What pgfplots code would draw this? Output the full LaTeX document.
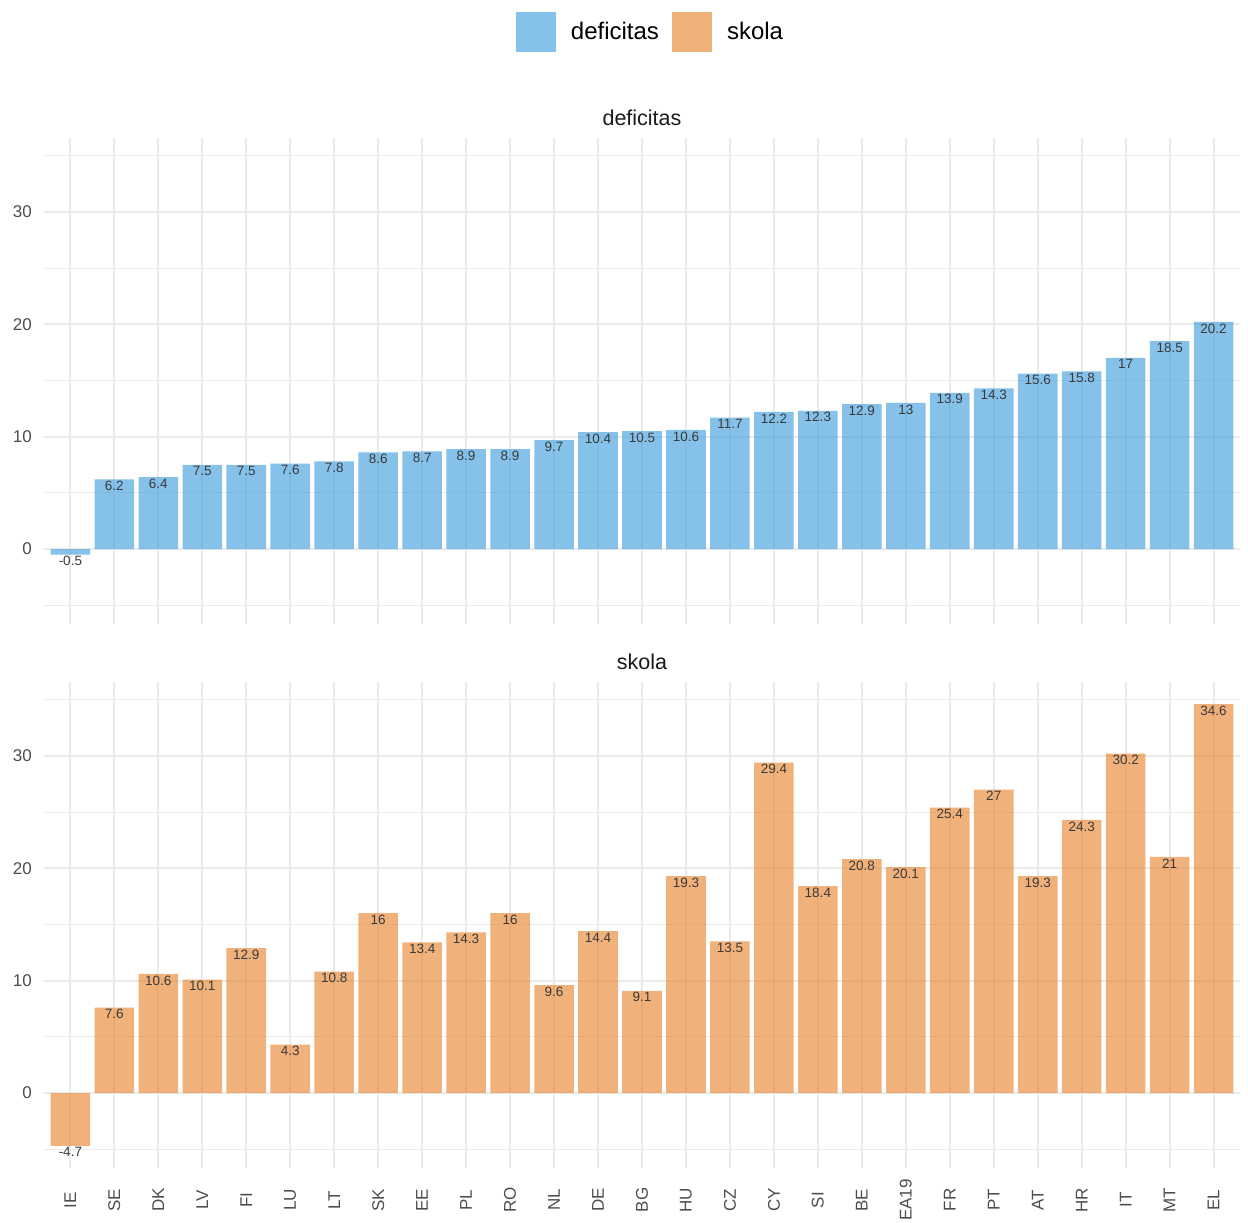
\documentclass[border=0pt]{standalone}
\usepackage{pgfplots}
\usepackage{pgfplotstable}
\pgfplotsset{compat=1.18}
\usepackage{fontspec}
\setmainfont{Liberation Sans}

\definecolor{defblue}{HTML}{3498DB}
\definecolor{skorange}{HTML}{E67E22}
\definecolor{gridgray}{HTML}{EBEBEB}
\definecolor{ticktext}{HTML}{4D4D4D}
\definecolor{labeltext}{HTML}{3A3A3A}
\definecolor{striptext}{HTML}{1A1A1A}

% x: country order (1..27)
\pgfplotstableread{
x y
1 -0.5
2 6.2
3 6.4
4 7.5
5 7.5
6 7.6
7 7.8
8 8.6
9 8.7
10 8.9
11 8.9
12 9.7
13 10.4
14 10.5
15 10.6
16 11.7
17 12.2
18 12.3
19 12.9
20 13
21 13.9
22 14.3
23 15.6
24 15.8
25 17
26 18.5
27 20.2
}\deficitas

\pgfplotstableread{
x y
1 -4.7
2 7.6
3 10.6
4 10.1
5 12.9
6 4.3
7 10.8
8 16
9 13.4
10 14.3
11 16
12 9.6
13 14.4
14 9.1
15 19.3
16 13.5
17 29.4
18 18.4
19 20.8
20 20.1
21 25.4
22 27
23 19.3
24 24.3
25 30.2
26 21
27 34.6
}\skola

\pgfplotsset{
  panel/.style={
    scale only axis,
    width=1196pt, height=486pt,
    xmin=0.4, xmax=27.6,
    ymin=-6.665, ymax=36.565,
    xtick={1,...,27},
    ytick={0,10,20,30},
    minor ytick={-5,5,15,25,35},
    grid=both,
    major grid style={draw=gridgray, line width=1.9pt},
    minor grid style={draw=gridgray, line width=1pt},
    axis line style={draw=none},
    major tick length=0pt, minor tick length=0pt,
    /pgf/number format/assume math mode=true,
    tick label style={font=\fontsize{17}{20}\selectfont, text=ticktext},
    yticklabel style={inner sep=0pt, xshift=-12pt},
    title style={at={(0.5,1)}, anchor=center, yshift=14pt,
      font=\fontsize{21.5}{24}\selectfont, text=striptext},
    ybar, bar width=0.9, bar shift=0pt,
    nodes near coords,
    every node near coord/.style={anchor=north, inner sep=1.5pt,
      font=\fontsize{13.5}{15}\selectfont, text=labeltext, text opacity=1},
  },
}

\begin{document}
\begin{tikzpicture}
\useasboundingbox (0,0) rectangle (1248pt,-1223pt);

\begin{axis}[panel,
  at={(44pt,-624pt)}, anchor=south west,
  title={deficitas},
  xticklabels={},
  legend columns=2,
  legend style={at={(0.5067,1.218)}, anchor=center, draw=none, fill=none,
    font=\fontsize{24}{28}\selectfont,
    /tikz/every odd column/.append style={column sep=14pt},
    /tikz/every even column/.append style={column sep=12pt},
    nodes={inner sep=1pt}},
  legend image code/.code={\fill[#1] (0pt,-20pt) rectangle (40pt,20pt);},
]
\addplot[fill=defblue, fill opacity=0.6, draw=none] table[x=x, y=y] {\deficitas};
\addlegendentry{deficitas}
\addlegendimage{fill=skorange, fill opacity=0.6, draw=none}
\addlegendentry{skola}
\end{axis}

\begin{axis}[panel,
  at={(44pt,-1168pt)}, anchor=south west,
  title={skola},
  xticklabels={IE,SE,DK,LV,FI,LU,LT,SK,EE,PL,RO,NL,DE,BG,HU,CZ,CY,SI,BE,EA19,FR,PT,AT,HR,IT,MT,EL},
  xticklabel style={anchor=center, yshift=-32pt, rotate=90},
]
\addplot[fill=skorange, fill opacity=0.6, draw=none] table[x=x, y=y] {\skola};
\end{axis}
\end{tikzpicture}
\end{document}
